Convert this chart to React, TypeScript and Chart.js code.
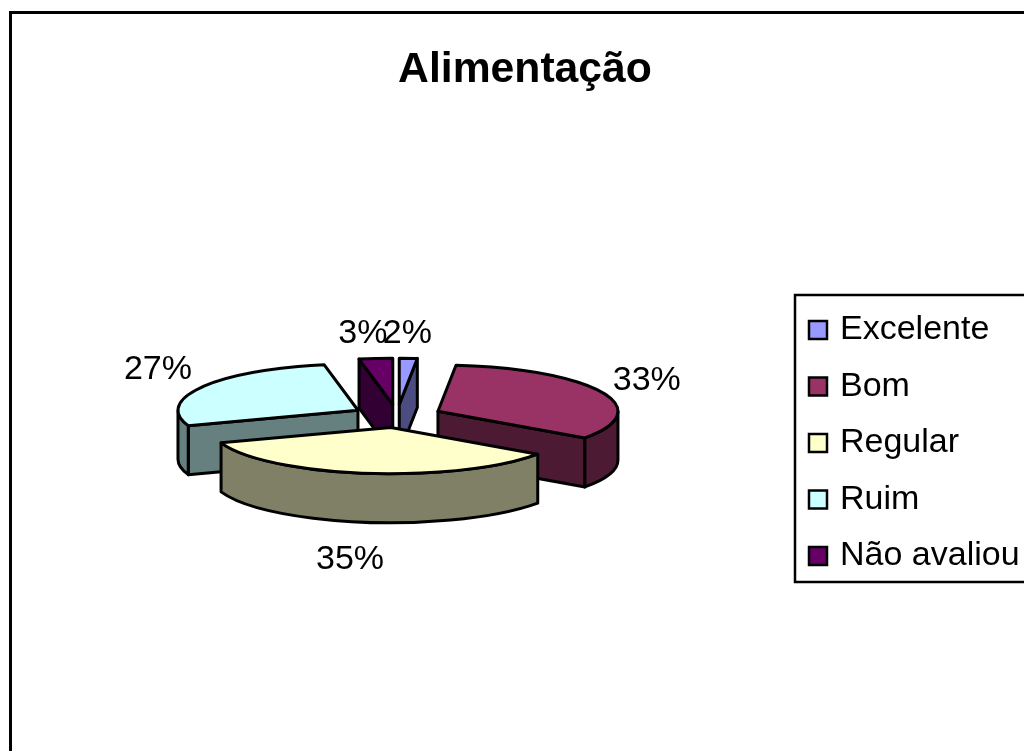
import React, { useEffect, useRef } from "react";
import { Chart, registerables } from "chart.js";

Chart.register(...registerables);

const categories = ["Excelente", "Bom", "Regular", "Ruim", "Não avaliou"];
const values = [1.6, 33.2, 34.8, 27.4, 3];
const topColors = ["#9999FF", "#993366", "#FFFFCC", "#CCFFFF", "#660066"];
const wallColors = ["#4C4C80", "#4D1A33", "#808066", "#668080", "#330033"];
// label offset from the rim midpoint of each slice
const labelNudgeX = [-1, 45, -16, -44, -13];
const labelNudgeY = [-25, -11, 86, -18, -25];

const FONT = '"Liberation Sans", Arial, sans-serif';
const CENTER_X = 397;
const CENTER_Y = 416;
const RADIUS = 180;
const SQUASH = 0.257;
const EXPLODE = 45;
const DEPTH = 49;
const LINE = 3;

const pie3d = {
  id: "pie3d",
  afterLayout(chart: any) {
    const lg = chart.legend;
    const w = lg.right - lg.left;
    const h = lg.bottom - lg.top;
    lg.left = 790.5;
    lg.right = lg.left + w;
    lg.top = 290.5;
    lg.bottom = lg.top + h;
  },
  beforeDraw(chart: any) {
    const c = chart.ctx;
    c.save();
    c.strokeStyle = "#000";
    c.lineWidth = 3;
    c.strokeRect(10.5, 12.5, chart.width + 50, chart.height + 50);
    c.lineWidth = 2.5;
    c.strokeRect(795, 295, 400, 287);
    c.restore();
  },
  beforeDatasetsDraw(chart: any) {
    const c = chart.ctx;
    const arcs: any[] = chart.getDatasetMeta(0).data;
    const items = arcs.map((arc, i) => {
      const mid = (arc.startAngle + arc.endAngle) / 2;
      return {
        arc,
        i,
        mid,
        ax: CENTER_X + Math.cos(mid) * EXPLODE,
        ay: CENTER_Y + Math.sin(mid) * EXPLODE * SQUASH,
      };
    });
    const R = arcs[0].outerRadius;
    const Ry = R * SQUASH;
    const pt = (it: any, a: number, dy = 0) => [
      it.ax + Math.cos(a) * R,
      it.ay + Math.sin(a) * Ry + dy,
    ];
    c.save();
    c.lineJoin = "round";
    c.strokeStyle = "#000";
    c.lineWidth = LINE;
    [...items]
      .sort((p, q) => p.ay - q.ay)
      .forEach((it) => {
        const { arc, i } = it;
        const s = arc.startAngle;
        const e = arc.endAngle;
        const face = (a: number) => {
          const [x, y] = pt(it, a);
          c.beginPath();
          c.moveTo(it.ax, it.ay);
          c.lineTo(x, y);
          c.lineTo(x, y + DEPTH);
          c.lineTo(it.ax, it.ay + DEPTH);
          c.closePath();
          c.fillStyle = wallColors[i];
          c.fill();
          c.stroke();
        };
        if (-Math.cos(s) > 0) face(s);
        if (Math.cos(e) > 0) face(e);
        const lo = Math.max(s, 0);
        const hi = Math.min(e, Math.PI);
        if (hi > lo) {
          c.beginPath();
          c.ellipse(it.ax, it.ay, R, Ry, 0, lo, hi);
          c.ellipse(it.ax, it.ay + DEPTH, R, Ry, 0, hi, lo, true);
          c.closePath();
          c.fillStyle = wallColors[i];
          c.fill();
          c.stroke();
        }
        c.save();
        c.translate(it.ax, it.ay);
        c.scale(1, SQUASH);
        c.translate(-arc.x, -arc.y);
        arc.draw(c);
        c.restore();
        c.beginPath();
        c.moveTo(it.ax, it.ay);
        c.ellipse(it.ax, it.ay, R, Ry, 0, s, e);
        c.closePath();
        c.stroke();
      });
    c.fillStyle = "#000";
    c.font = `34px ${FONT}`;
    c.textAlign = "center";
    c.textBaseline = "middle";
    items.forEach((it) => {
      const [x, y] = pt(it, it.mid);
      c.fillText(`${Math.round(values[it.i])}%`, x + labelNudgeX[it.i], y + labelNudgeY[it.i]);
    });
    c.restore();
    return false;
  },
};

export default function App() {
  const ref = useRef<HTMLCanvasElement>(null);
  useEffect(() => {
    const chart = new Chart(ref.current as HTMLCanvasElement, {
      type: "pie",
      data: {
        labels: categories,
        datasets: [
          {
            data: values,
            backgroundColor: topColors,
            borderWidth: 0,
            radius: RADIUS,
          } as any,
        ],
      },
      options: {
        animation: false,
        responsive: false,
        layout: { padding: 0 },
        plugins: {
          title: {
            display: true,
            text: "Alimentação",
            color: "#000",
            font: { family: FONT, size: 42.7, weight: "bold" },
            padding: { top: 45, bottom: 10 },
          },
          legend: {
            position: "right",
            align: "start",
            labels: {
              color: "#000",
              font: { family: FONT, size: 34 },
              padding: 22.5,
              usePointStyle: true,
              pointStyle: "rect",
              boxWidth: 10,
              boxHeight: 18,
              generateLabels: () =>
                categories.map((text, i) => ({
                  text,
                  fillStyle: topColors[i],
                  strokeStyle: "#000",
                  lineWidth: 2.5,
                  pointStyle: "rect",
                  index: i,
                  fontColor: "#000",
                })),
            },
          },
          tooltip: { enabled: false },
        },
      } as any,
      plugins: [pie3d as any],
    });
    return () => chart.destroy();
  }, []);
  return (
    <div
      style={{
        position: "fixed",
        left: 0,
        top: 0,
        width: 1024,
        height: 751,
        overflow: "hidden",
        background: "#fff",
      }}
    >
      <canvas ref={ref} width={1050} height={790} style={{ display: "block" }} />
    </div>
  );
}
